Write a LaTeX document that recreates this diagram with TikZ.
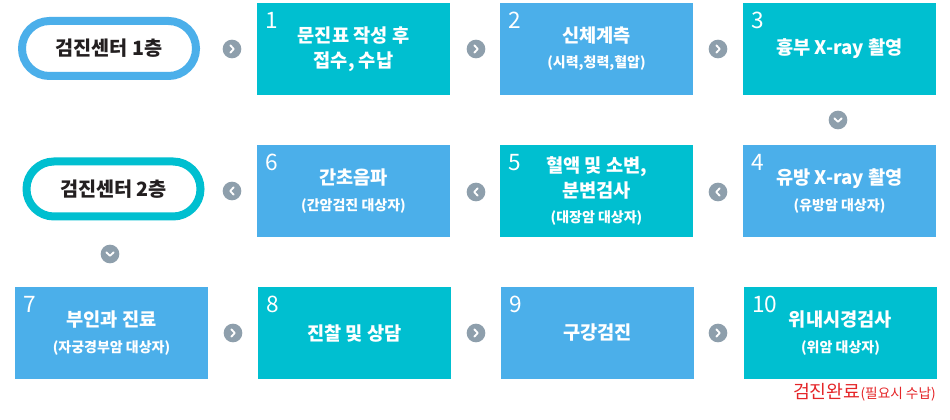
\documentclass[tikz,border=0pt]{standalone}
\usepackage{fontspec}
\setmainfont{Noto Sans CJK KR}
\usetikzlibrary{calc}
\definecolor{cyanbox}{HTML}{00BFD0}
\definecolor{bluebox}{HTML}{4BAFEA}
\definecolor{chevgrey}{HTML}{8E9FAC}
\definecolor{darktext}{HTML}{231F20}
\definecolor{redtext}{HTML}{E52528}
\newcommand\mainf{\fontsize{14pt}{19pt}\selectfont\bfseries}
\newcommand\subf{\fontsize{10.5pt}{19pt}\selectfont\bfseries}
\tikzset{
  stepbox/.style={rectangle, minimum width=144.75pt, minimum height=69pt, inner sep=0pt,
    text=white, align=center, font=\mainf},
  cbox/.style={stepbox, fill=cyanbox},
  bbox/.style={stepbox, fill=bluebox},
  numlabel/.style={anchor=north west, inner sep=0pt, text=white, font=\fontsize{17pt}{20pt}\selectfont},
  pill/.style={rectangle, rounded corners=20.6pt, line width=6pt, fill=white,
    minimum width=130.5pt, minimum height=41.25pt, text=darktext,
    font=\fontsize{14.75pt}{18pt}\selectfont\bfseries},
  chevbase/.style={circle, fill=chevgrey, minimum size=14pt, inner sep=0pt},
  chevline/.style={white, line width=1.4pt, line cap=round, line join=round},
  chevr/.style={chevbase, path picture={\draw[chevline]
      ($(path picture bounding box.center)+(-1.6,-3.6)$) -- ($(path picture bounding box.center)+(1.8,0)$) -- ($(path picture bounding box.center)+(-1.6,3.6)$);}},
  chevl/.style={chevbase, path picture={\draw[chevline]
      ($(path picture bounding box.center)+(1.6,-3.6)$) -- ($(path picture bounding box.center)+(-1.8,0)$) -- ($(path picture bounding box.center)+(1.6,3.6)$);}},
  chevd/.style={chevbase, path picture={\draw[chevline]
      ($(path picture bounding box.center)+(-3.6,-1.6)$) -- ($(path picture bounding box.center)+(0,1.8)$) -- ($(path picture bounding box.center)+(3.6,-1.6)$);}},
}
\begin{document}
\begin{tikzpicture}[x=0.75pt,y=-0.75pt]
\useasboundingbox (0,0) rectangle (950,420);
\fill[white] (0,0) rectangle (950,420);

% pills
\node[pill, draw=bluebox] (p1) at (109,48.5) {검진센터 1층};
\node[pill, draw=cyanbox] (p2) at (113.5,189) {검진센터 2층};

% row 1
\node[cbox] (b1) at (353.5,49) {문진표 작성 후\\접수, 수납};
\node[bbox] (b2) at (596.5,49) {신체계측\\{\subf(시력,청력,혈압)}};
\node[cbox] (b3) at (839.5,49) {흉부 X-ray 촬영};
% row 2
\node[bbox] (b4) at (839.5,191) {유방 X-ray 촬영\\{\subf(유방암 대상자)}};
\node[cbox] (b5) at (596.5,191) {혈액 및 소변,\\분변검사\\{\subf(대장암 대상자)}};
\node[bbox] (b6) at (353.5,191) {간초음파\\{\subf(간암검진 대상자)}};
% row 3
\node[bbox] (b7) at (111.5,333) {부인과 진료\\{\subf(자궁경부암 대상자)}};
\node[cbox] (b8) at (354.5,333) {진찰 및 상담};
\node[bbox] (b9) at (597.5,333) {구강검진};
\node[cbox] (b10) at (840.5,333) {위내시경검사\\{\subf(위암 대상자)}};

% numbers
\foreach \b/\n in {b1/1,b2/2,b3/3,b4/4,b5/5,b6/6,b7/7,b8/8,b9/9,b10/10}{
  \node[numlabel] (n\n) at ($(\b.north west)+(8,9)$) {\n};
}

% chevrons
\node[chevr] (c1) at (232,49) {};
\node[chevr] (c2) at (476,49) {};
\node[chevr] (c3) at (718,49) {};
\node[chevd] (c4) at (838,120) {};
\node[chevl] (c5) at (718,192) {};
\node[chevl] (c6) at (476,192) {};
\node[chevl] (c7) at (232,191) {};
\node[chevd] (c8) at (110,254) {};
\node[chevr] (c9) at (233,333) {};
\node[chevr] (c10) at (476,333) {};
\node[chevr] (c11) at (718,333) {};

% completion note
\node[anchor=base east, inner sep=0pt, text=redtext] (done) at (936,398)
  {\fontsize{13.75pt}{16pt}\selectfont 검진완료\fontsize{10.25pt}{12pt}\selectfont(필요시 수납)};
\end{tikzpicture}
\end{document}
